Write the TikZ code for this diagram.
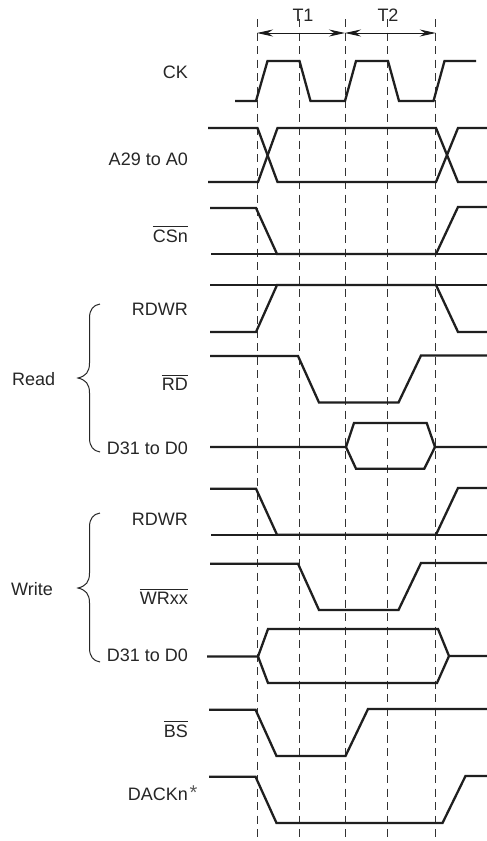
\documentclass[tikz,border=0pt]{standalone}
\usepackage{fontspec}
\setmainfont{Liberation Sans}
\usetikzlibrary{arrows.meta}
\newcommand\ovl[1]{\leavevmode\vbox{\hrule height .8pt \kern 2.2pt \hbox{#1}}}
\newcommand\labfont{\fontsize{18pt}{21pt}\selectfont}
\tikzset{
  x=1pt,y=-1pt,
  wave/.style={line width=2.3pt,color=black!88,line join=miter},
  guide/.style={line width=1pt,color=black!80,dash pattern=on 8pt off 5.5pt},
  span/.style={line width=.9pt,color=black!90,{Stealth[length=16pt,width=7pt]}-{Stealth[length=16pt,width=7pt]}},
  lab/.style={font=\labfont,color=black!85,anchor=base east,inner sep=0pt},
  group/.style={font=\labfont,color=black!85,anchor=base west,inner sep=0pt},
  period/.style={font=\labfont,color=black!85,inner sep=0pt},
  brace/.style={line width=1pt,color=black!85},
}
\begin{document}
\begin{tikzpicture}
\useasboundingbox[fill=white] (0,0) rectangle (487,841);
% guides
\foreach \n/\x in {a/257,b/299.7,c/345,d/387.7,e/435.7}{
  \coordinate (\n t) at (\x,19);
  \coordinate (\n b) at (\x,841);
  \coordinate (\n m) at (\x,33);
  \draw[guide] (\n t) -- (\n b);
}
\draw[span] (am) -- (cm);
\draw[span] (cm) -- (em);
\node[period] (t1) at (303,15.5) {T1};
\node[period] (t2) at (388,15.5) {T2};
% CK
\draw[wave] (235,101)--(256,101)--(267.5,61)--(299.5,61)--(310.5,101)--(345,101)--(356,61)--(388,61)--(399,101)--(433.5,101)--(444.5,61)--(476,61);
% A29 to A0
\draw[wave] (208,128)--(257.5,128)--(277.5,182)--(436,182)--(458,128)--(487,128);
\draw[wave] (208,182)--(258,182)--(277.5,128)--(436,128)--(458,182)--(487,182);
% CSn
\draw[wave] (210,208)--(256,208)--(277,254)--(436,254)--(458,207)--(487,207);
\draw[wave] (211,254)--(487,254);
% RDWR read
\draw[wave] (210,332)--(256,332)--(277,285)--(436,285)--(458,332)--(487,332);
\draw[wave] (210,285)--(487,285);
% RD
\draw[wave] (210,356)--(298,356)--(319,402.5)--(398.5,402.5)--(421,355.5)--(487,355.5);
% D31 read
\draw[wave] (210,447)--(346,447)--(354,423)--(426.7,423)--(435,447)--(487,447);
\draw[wave] (346,447)--(356,468.7)--(424.3,468.7)--(435,447);
% RDWR write
\draw[wave] (210,488.7)--(256,488.7)--(277,534.7)--(436,534.7)--(458,488)--(487,488);
\draw[wave] (211,534.7)--(487,534.7);
% WRxx
\draw[wave] (210,563.7)--(298,563.7)--(319,610)--(398.5,610)--(421,563)--(487,563);
% D31 write
\draw[wave] (207,656.5)--(258,656.5)--(268,629)--(438,629)--(449,656)--(487,656);
\draw[wave] (258,656.5)--(268,683)--(437,683)--(449,656);
% BS
\draw[wave] (209,709.7)--(255.5,709.7)--(276.5,756)--(345.5,756)--(368,709)--(487,709);
% DACKn
\draw[wave] (209,776.7)--(255.5,776.7)--(276.5,823)--(442.5,823)--(465.5,776)--(487,776);
% labels
\node[lab] (ck) at (188,78) {CK};
\node[lab] (addr) at (188,165.7) {A29 to A0};
\node[lab] (cs) at (188,242) {\ovl{CSn}};
\node[lab] (rdwr1) at (188,315) {RDWR};
\node[lab] (rd) at (188,390) {\ovl{RD}};
\node[lab] (d1) at (188,454) {D31 to D0};
\node[lab] (rdwr2) at (188,525) {RDWR};
\node[lab] (wr) at (188,604) {\ovl{WRxx}};
\node[lab] (d2) at (188,661) {D31 to D0};
\node[lab] (bs) at (188,737) {\ovl{BS}};
\node[lab] (dack) at (188,800) {DACKn};
\node[font=\fontsize{20pt}{22pt}\selectfont,color=black!65,anchor=base west,inner sep=0pt] (star) at (189.5,799) {*};
\node[group] (read) at (12,385) {Read};
\node[group] (write) at (11,595) {Write};
% braces
\draw[brace] (100,304) .. controls (93,305) and (89.5,310) .. (89.5,318) -- (89.5,363)
  .. controls (89.5,372) and (86,376) .. (78,378)
  .. controls (86,380) and (89.5,384) .. (89.5,393) -- (89.5,438)
  .. controls (89.5,446) and (93,451) .. (100,452);
\draw[brace] (100,513) .. controls (93,514) and (89.5,519) .. (89.5,527) -- (89.5,573)
  .. controls (89.5,582) and (86,586) .. (78,588)
  .. controls (86,590) and (89.5,594) .. (89.5,603) -- (89.5,648)
  .. controls (89.5,656) and (93,661) .. (100,662);
\end{tikzpicture}
\end{document}
